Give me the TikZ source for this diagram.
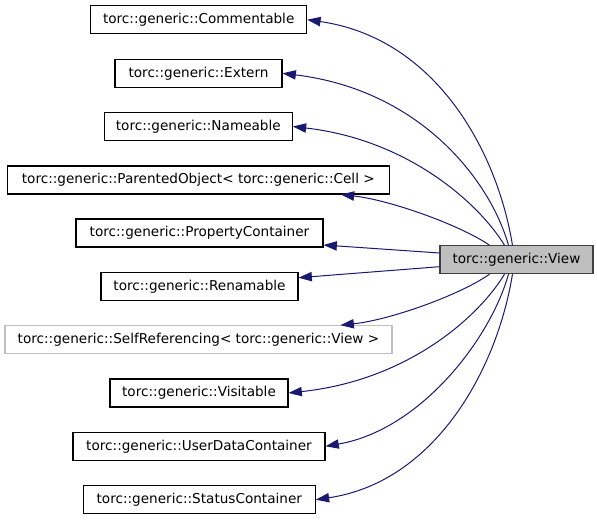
\documentclass[tikz,border=0pt]{standalone}
\usepackage{fontspec}
\setmainfont{DejaVu Sans}
\usetikzlibrary{arrows.meta,calc}
\definecolor{edgeblue}{HTML}{191970}
\definecolor{viewfill}{HTML}{BFBFBF}
\definecolor{viewdraw}{HTML}{404040}
\definecolor{lightborder}{HTML}{BFBFBF}
\begin{document}
\begin{tikzpicture}[x=0.75pt,y=-0.75pt,
  cls/.style={draw=black,fill=white,line width=0.8pt,minimum height=21pt,inner sep=0pt,
    font=\fontsize{10.2}{12}\selectfont,text=black},
  mainbox/.style={cls,fill=viewfill,draw=viewdraw},
  ghost/.style={cls,draw=lightborder},
  edge/.style={draw=edgeblue,line width=0.75pt,-{Triangle[length=10pt,width=7pt]}}]
\useasboundingbox (0,0) rectangle (597,520);
\node[cls,minimum width=162pt]    (comm) at (198.7,19.7)  {torc::generic::Commentable};
\node[cls,minimum width=125.25pt] (ext)  at (198.5,73.3)  {torc::generic::Extern};
\node[cls,minimum width=141pt]    (name) at (198.3,126.5) {torc::generic::Nameable};
\node[cls,minimum width=286.5pt]  (po)   at (198.3,180)   {torc::generic::ParentedObject< torc::generic::Cell >};
\node[cls,minimum width=185.25pt] (prop) at (199.5,233)   {torc::generic::PropertyContainer};
\node[cls,minimum width=147.75pt] (ren)  at (199.5,286.3) {torc::generic::Renamable};
\node[ghost,minimum width=290.25pt] (self) at (198.5,339.7) {torc::generic::SelfReferencing< torc::generic::View >};
\node[cls,minimum width=133.5pt]  (vis)  at (199,393)     {torc::generic::Visitable};
\node[cls,minimum width=189pt]    (udc)  at (199,446.3)   {torc::generic::UserDataContainer};
\node[cls,minimum width=174pt]    (stat) at (199.3,499.7) {torc::generic::StatusContainer};
\node[mainbox,minimum width=114.75pt] (view) at (516.5,259.7) {torc::generic::View};

\draw[edge] ($(view.north west)+(73,0)$) .. controls (497,150) and (435,38) .. (comm.east);
\draw[edge] ($(view.north west)+(69,0)$) .. controls (490,180) and (420,90) .. (ext.east);
\draw[edge] ($(view.north west)+(65,0)$) .. controls (480,205) and (410,140) .. (name.east);
\draw[edge] ($(view.north west)+(50,0)$) .. controls (460,225) and (390,200) .. ($(po.south east)+(-49,0)$);
\draw[edge] ($(view.west)+(0,-6.7)$) -- ($(prop.east)+(0,12)$);
\draw[edge] ($(view.west)+(0,7)$) -- ($(ren.east)+(0,-8.6)$);
\draw[edge] ($(view.south west)+(50,0)$) .. controls (460,295) and (390,320) .. ($(self.north east)+(-52,0)$);
\draw[edge] ($(view.south west)+(65,0)$) .. controls (480,315) and (410,380) .. (vis.east);
\draw[edge] ($(view.south west)+(69,0)$) .. controls (490,340) and (420,430) .. (udc.east);
\draw[edge] ($(view.south west)+(73,0)$) .. controls (497,370) and (435,482) .. (stat.east);
\end{tikzpicture}
\end{document}
